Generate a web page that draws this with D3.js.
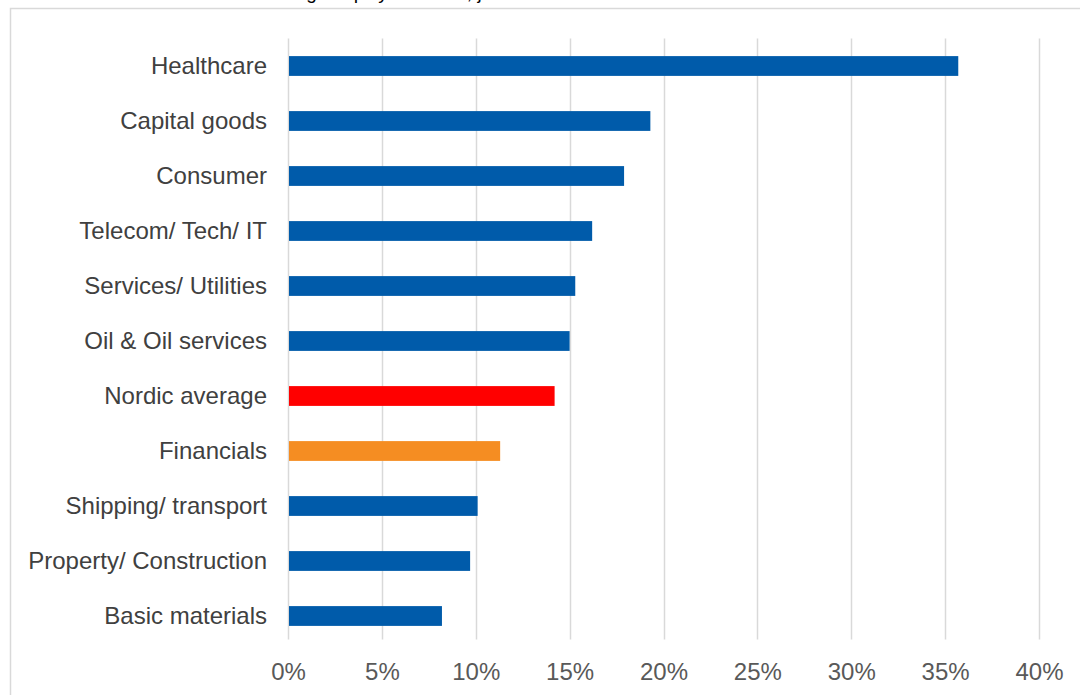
<!DOCTYPE html>
<html>
<head>
<meta charset="utf-8">
<script src="https://cdn.jsdelivr.net/npm/d3@7"></script>
<style>
  body { margin: 0; background: #fff; overflow: hidden; }
  svg { display: block; font-family: Arial, "Liberation Sans", sans-serif; }
</style>
</head>
<body>
<div id="chart"></div>
<script>
// Sector values (share, %)
const categories = [
    "Healthcare", "Capital goods", "Consumer", "Telecom/ Tech/ IT",
    "Services/ Utilities", "Oil & Oil services", "Nordic average",
    "Financials", "Shipping/ transport", "Property/ Construction", "Basic materials"
]
const values = [35.7, 19.3, 17.9, 16.2, 15.3, 15.0, 14.2, 11.3, 10.1, 9.7, 8.2]
const tickValues = [0, 5, 10, 15, 20, 25, 30, 35, 40]
const highlight = { "Nordic average": "#ff0000", "Financials": "#f58d22" }

const width = 1080, height = 695
const margin = { left: 288, right: 41, top: 38.5, bottom: 51.5 }

let svg = d3.select("#chart")
    .append("svg")
    .attr("width", width)
    .attr("height", height)

// chart frame (runs off the page on the right and bottom)
svg.append("rect")
    .attr("x", 10.5).attr("y", 8.5)
    .attr("width", width).attr("height", height)
    .attr("fill", "none")
    .attr("stroke", "#d9d9d9")
    .attr("stroke-width", 1.5)

// title, mostly cut off at top as in the source picture
svg.append("text")
    .attr("x", 150).attr("y", -1)
    .attr("font-size", 19)
    .attr("fill", "#000")
    .text("Nordea and Carnegie equity research, januar 2018")

let x = d3.scaleLinear()
    .domain([0, 40])
    .range([margin.left, width - margin.right])

let y = d3.scaleBand()
    .domain(categories)
    .range([margin.top, height - margin.bottom])
    .paddingInner(0.64)
    .paddingOuter(0.32)

// vertical gridlines
svg.append("g")
    .selectAll("line")
    .data(tickValues)
    .enter()
    .append("line")
        .attr("x1", d => Math.round(x(d)) + 0.5)
        .attr("x2", d => Math.round(x(d)) + 0.5)
        .attr("y1", margin.top)
        .attr("y2", height - margin.bottom - 4)
        .attr("stroke", "#d9d9d9")
        .attr("stroke-width", 1.5)

// bars
svg.append("g")
    .selectAll("rect")
    .data(categories)
    .enter()
    .append("rect")
        .attr("x", x(0) + 1)
        .attr("y", d => y(d))
        .attr("width", (d, i) => x(values[i]) - x(0) - 1)
        .attr("height", y.bandwidth())
        .attr("fill", d => highlight[d] || "#005baa")

// category labels
svg.append("g")
    .selectAll("text")
    .data(categories)
    .enter()
    .append("text")
        .attr("x", 267)
        .attr("y", d => y(d) + y.bandwidth() / 2)
        .attr("dy", "0.35em")
        .attr("text-anchor", "end")
        .attr("font-size", 24)
        .attr("fill", "#404040")
        .text(d => d)

// x axis
let xAxis = d3.axisBottom(x)
    .tickValues(tickValues)
    .tickFormat(d => d + "%")
    .tickSize(0)
    .tickPadding(0)

let gx = svg.append("g")
    .attr("transform", "translate(0," + 663 + ")")
    .call(xAxis)
gx.select(".domain").remove()
gx.selectAll("text")
    .attr("font-size", 24)
    .attr("font-family", "Arial, 'Liberation Sans', sans-serif")
    .attr("fill", "#595959")
</script>
</body>
</html>
